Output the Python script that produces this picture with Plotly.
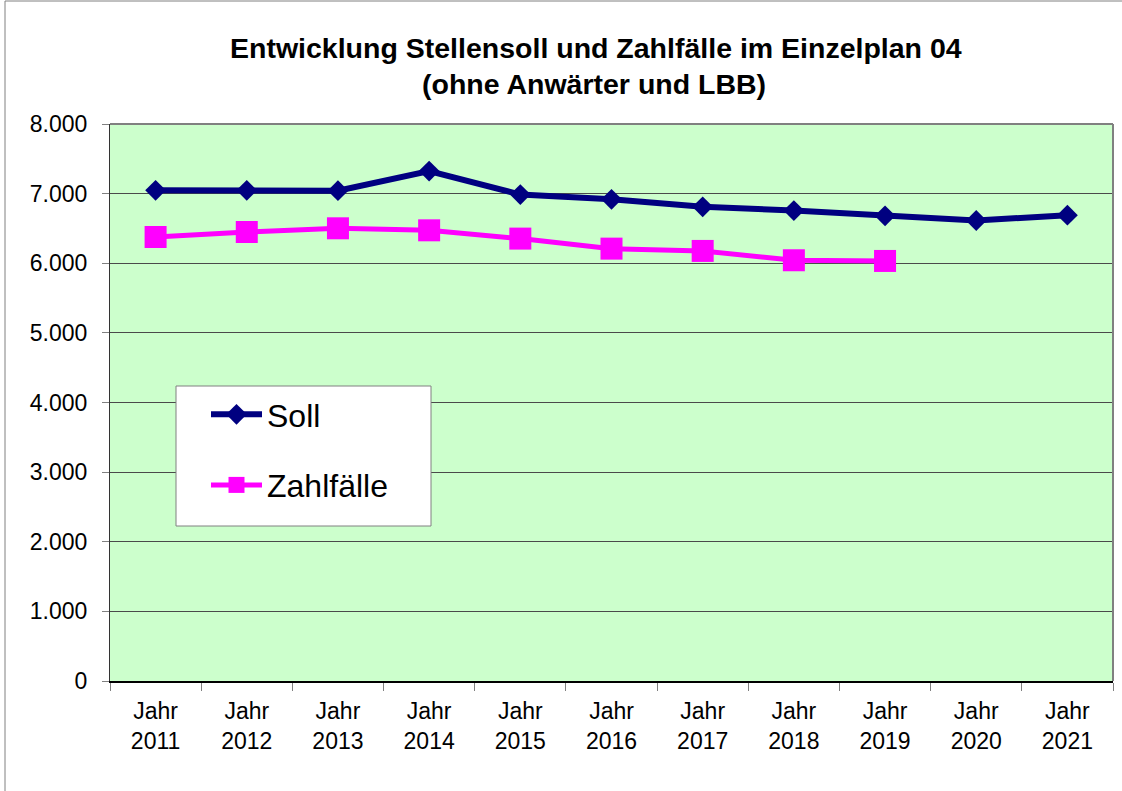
import plotly.graph_objects as go

years = ["2011", "2012", "2013", "2014", "2015", "2016", "2017", "2018", "2019", "2020", "2021"]
categories = ["Jahr<br>" + y for y in years]
soll = [7047, 7047, 7042, 7324, 6986, 6918, 6810, 6757, 6681, 6614, 6690]
zahlfaelle = [6377, 6449, 6502, 6473, 6354, 6210, 6177, 6043, 6033, None, None]
y_ticks = [0, 1000, 2000, 3000, 4000, 5000, 6000, 7000, 8000]
title1 = "Entwicklung Stellensoll und Zahlfälle im Einzelplan 04"
title2 = "(ohne Anwärter und LBB)"

FONT = "Liberation Sans, Arial, sans-serif"

fig = go.Figure()
fig.add_trace(go.Scatter(
    x=categories, y=soll, name="Soll", mode="lines+markers",
    line=dict(color="#000080", width=6),
    marker=dict(symbol="diamond", size=16, color="#000080"),
    legendgroup="a",
))
fig.add_trace(go.Scatter(
    x=categories, y=zahlfaelle, name="Zahlfälle", mode="lines+markers",
    line=dict(color="#FF00FF", width=5),
    marker=dict(symbol="square", size=22, color="#FF00FF"),
    legendgroup="b",
))

L, R, T, B = 110, 1113, 124, 681
W, H = 1122, 791
pw, ph = R - L, B - T

def px(x):
    return (x - L) / pw

def py(y):
    return (B - y) / ph

shapes = [
    # legend box
    dict(type="rect", xref="paper", yref="paper", x0=px(176), x1=px(431), y0=py(526), y1=py(386),
         fillcolor="white", line=dict(color="#808080", width=1), layer="above"),
    # top / right plot border in gray
    dict(type="line", xref="paper", yref="paper", x0=0, x1=1, y0=1, y1=1, line=dict(color="#808080", width=2)),
    dict(type="line", xref="paper", yref="paper", x0=1, x1=1, y0=0, y1=1, line=dict(color="#808080", width=2)),
    # outer chart border (left / top)
    dict(type="line", xref="paper", yref="paper", x0=px(5), x1=px(5), y0=py(791), y1=py(1), line=dict(color="#808080", width=1)),
    dict(type="line", xref="paper", yref="paper", x0=px(5), x1=px(1122), y0=py(1), y1=py(1), line=dict(color="#808080", width=1)),
]

fig.update_layout(
    width=W, height=H,
    margin=dict(l=L, r=W - R, t=T, b=H - B),
    paper_bgcolor="white",
    plot_bgcolor="#CCFFCC",
    font=dict(family=FONT, size=22, color="black"),
    separators=",.",
    showlegend=True,
    legend=dict(
        x=px(206), y=py(387), xanchor="left", yanchor="top",
        bgcolor="rgba(0,0,0,0)", borderwidth=0,
        font=dict(family=FONT, size=32, color="black"),
        tracegroupgap=26, itemwidth=51,
    ),
    shapes=shapes,
    annotations=[
        dict(text="<b>" + title1 + "</b>", xref="paper", yref="paper", x=px(596), y=py(48),
             xanchor="center", yanchor="middle", showarrow=False, font=dict(family=FONT, size=28.5)),
        dict(text="<b>" + title2 + "</b>", xref="paper", yref="paper", x=px(594), y=py(84),
             xanchor="center", yanchor="middle", showarrow=False, font=dict(family=FONT, size=28.5)),
    ],
)

fig.update_xaxes(
    type="category", range=[-0.5, 10.5], tickson="boundaries",
    showgrid=False, showline=True, linecolor="black", linewidth=2,
    ticks="outside", ticklen=8, tickcolor="#808080", tickwidth=1,
    ticklabelstandoff=8,
    tickfont=dict(family=FONT, size=23),
    zeroline=False,
)
fig.update_yaxes(
    range=[0, 8000], tickvals=y_ticks, tickformat=",d",
    showgrid=True, gridcolor="#4a4a4a", gridwidth=1,
    showline=True, linecolor="#333333", linewidth=1,
    ticks="outside", ticklen=7, tickcolor="#808080", tickwidth=1,
    ticklabelstandoff=10,
    tickfont=dict(family=FONT, size=23),
    zeroline=False,
)

fig.write_html(
    "out.html",
    config={"displayModeBar": False},
    post_script="document.body.style.margin='0';document.body.style.overflow='hidden';",
)
